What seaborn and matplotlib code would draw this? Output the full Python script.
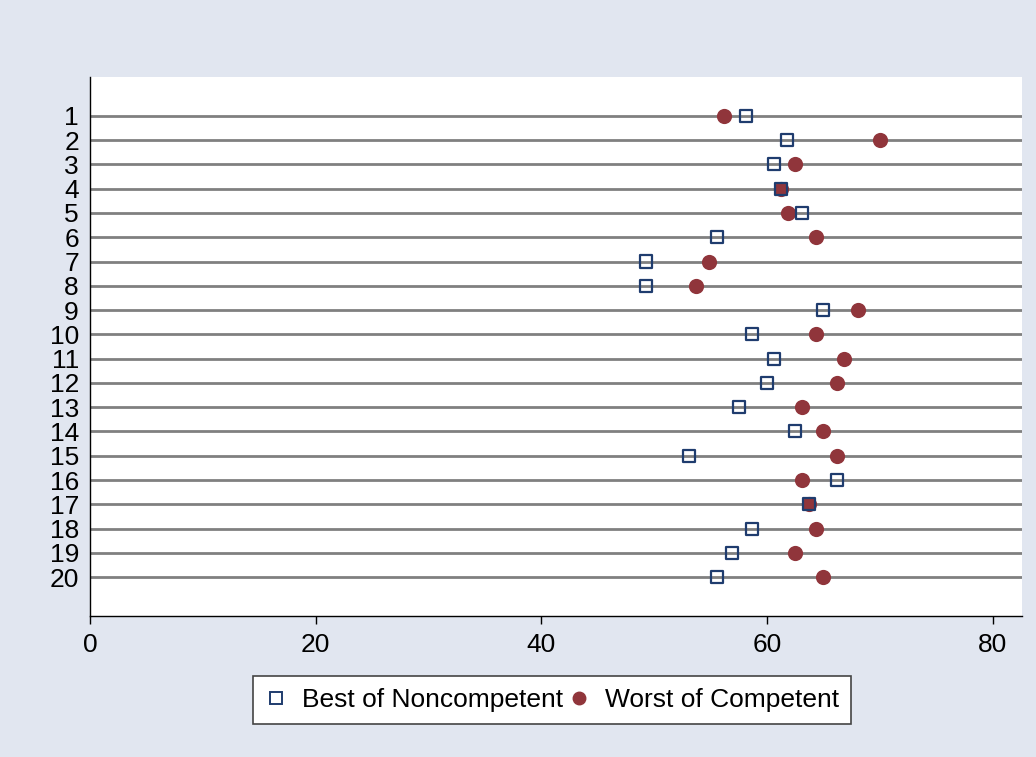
import matplotlib
matplotlib.use('Agg')
import matplotlib.pyplot as plt
from matplotlib.lines import Line2D
import pandas as pd
import seaborn as sns

# values
items = list(range(1, 21))
best_noncompetent = [58.1, 61.8, 60.6, 61.2, 63.1, 55.6, 49.3, 49.3, 65.0, 58.7,
                     60.6, 60.0, 57.5, 62.5, 53.1, 66.2, 63.7, 58.7, 56.9, 55.6]
worst_competent = [56.2, 70.0, 62.5, 61.2, 61.9, 64.3, 54.9, 53.7, 68.1, 64.3,
                   66.8, 66.2, 63.1, 65.0, 66.2, 63.1, 63.7, 64.3, 62.5, 65.0]
x_ticks = [0, 20, 40, 60, 80]

navy = '#1f3c6e'
red = '#90353b'
bg = '#e1e6f0'

data = pd.DataFrame({'item': items,
                     'best': best_noncompetent,
                     'worst': worst_competent})

sns.set_style('white')
plt.rcParams['font.family'] = ['Liberation Sans', 'DejaVu Sans']
plt.rcParams['text.color'] = 'black'
plt.rcParams['xtick.color'] = 'black'
plt.rcParams['ytick.color'] = 'black'

fig = plt.figure(figsize=(10.36, 7.57), dpi=100, facecolor=bg)
ax = fig.add_axes([0.0869, 0.1863, 0.8996, 0.712])
ax.set_facecolor('white')

# horizontal line for each item
for y in items:
    ax.axhline(y, color='#808080', lw=2, zorder=1)

sns.scatterplot(data=data, x='worst', y='item', ax=ax, marker='o', s=120,
                color=red, edgecolor=red, linewidth=0, zorder=3, legend=False)
sns.scatterplot(data=data, x='best', y='item', ax=ax, marker='s', s=75,
                facecolor='none', edgecolor=navy, linewidth=1.6, zorder=4, legend=False)

ax.set_xlim(0, 82.6)
ax.set_ylim(21.6, -0.6)
ax.set_xticks(x_ticks)
ax.set_yticks(items)
ax.set_yticklabels([str(i) for i in items])
ax.set_xlabel('')
ax.set_ylabel('')
ax.tick_params(axis='y', length=0, pad=8, labelsize=19)
ax.tick_params(axis='x', length=6, width=1, color='black', direction='out',
               pad=6, labelsize=19, bottom=True)

for side in ['top', 'right']:
    ax.spines[side].set_visible(False)
for side in ['left', 'bottom']:
    ax.spines[side].set_color('black')
    ax.spines[side].set_linewidth(1)

handles = [Line2D([], [], marker='s', ls='', markersize=8, markerfacecolor='none',
                  markeredgecolor=navy, markeredgewidth=1.4),
           Line2D([], [], marker='o', ls='', markersize=9, markerfacecolor=red,
                  markeredgecolor=red)]
leg = fig.legend(handles, ['Best of Noncompetent', 'Worst of Competent'],
                 loc='center', bbox_to_anchor=(0.533, 0.0753), ncol=2,
                 fontsize=19, frameon=True, fancybox=False, framealpha=1,
                 handlelength=0.8, handletextpad=0.6, columnspacing=0.2,
                 borderpad=0.45)
leg.get_frame().set_facecolor('white')
leg.get_frame().set_edgecolor('#444444')
leg.get_frame().set_linewidth(1.2)

fig.savefig('out.png', dpi=100, facecolor=bg)
